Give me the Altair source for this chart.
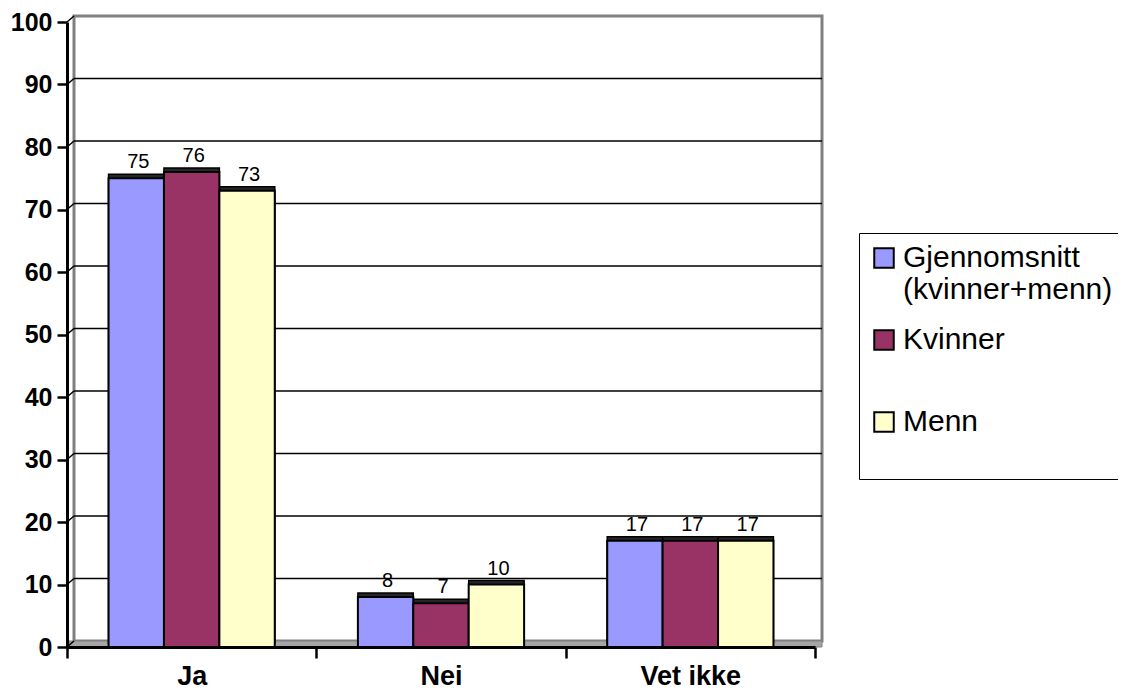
import altair as alt
import pandas as pd

categories = ["Ja", "Nei", "Vet ikke"]
series = ["Gjennomsnitt (kvinner+menn)", "Kvinner", "Menn"]
gjennomsnitt = [75, 8, 17]
kvinner = [76, 7, 17]
menn = [73, 10, 17]
colors = ["#9999FF", "#993366", "#FFFFCC"]
y_ticks = list(range(0, 101, 10))
grid_values = list(range(10, 100, 10))

rows = []
for i, c in enumerate(categories):
    for s, vals in zip(series, [gjennomsnitt, kvinner, menn]):
        rows.append({"kategori": c, "gruppe": s, "verdi": vals[i]})
df = pd.DataFrame(rows)
tick_df = pd.DataFrame({"v": y_ticks})
grid_df = pd.DataFrame({"v": grid_values})
one_df = pd.DataFrame({"a": [0]})

FONT = "Liberation Sans"
W, H = 748, 625
DEPTH_X, DEPTH_Y = 7, 6

y_axis = alt.Axis(
    values=y_ticks, title=None, grid=False,
    labelFont=FONT, labelFontSize=25, labelFontWeight="bold", labelColor="black",
    labelPadding=5, tickSize=10, tickWidth=2.5, tickColor="black",
    domainColor="black", domainWidth=3, zindex=1,
)
y_scale = alt.Scale(domain=[0, 100], nice=False, zero=True)

x_axis = alt.Axis(
    title=None, labelAngle=0, tickBand="extent",
    labelFont=FONT, labelFontSize=27, labelFontWeight="bold", labelColor="black",
    labelBaseline="alphabetic", labelPadding=26,
    tickSize=11, tickWidth=2.5, tickColor="black",
    domainColor="black", domainWidth=3, zindex=1,
)
x_enc = alt.X("kategori:N", sort=categories, axis=x_axis,
              scale=alt.Scale(paddingInner=0, paddingOuter=0))
xo_enc = alt.XOffset("gruppe:N", sort=series,
                     scale=alt.Scale(paddingInner=0, paddingOuter=0.75))

wall = alt.Chart(one_df).mark_rect(fill="white", stroke="#808080", strokeWidth=3).encode(
    x=alt.value(DEPTH_X), x2=alt.value(W + DEPTH_X),
    y=alt.value(-DEPTH_Y), y2=alt.value(H - DEPTH_Y),
)
floor = alt.Chart(one_df).mark_rect(fill="#a6a6a6", stroke="#808080", strokeWidth=1).encode(
    x=alt.value(2), x2=alt.value(W + DEPTH_X),
    y=alt.value(H - DEPTH_Y), y2=alt.value(H),
)
grid = alt.Chart(grid_df).mark_rule(color="black", strokeWidth=1.5,
                                    yOffset=-DEPTH_Y, y2Offset=-DEPTH_Y).encode(
    y=alt.Y("v:Q", scale=y_scale, axis=y_axis),
    y2="v:Q",
    x=alt.value(DEPTH_X), x2=alt.value(W + DEPTH_X),
)
diag = alt.Chart(tick_df).mark_rule(color="black", strokeWidth=1.5, y2Offset=-DEPTH_Y).encode(
    y=alt.Y("v:Q", scale=y_scale, axis=y_axis),
    y2="v:Q",
    x=alt.value(0), x2=alt.value(DEPTH_X),
)

legend = alt.Legend(
    title=None, orient="none", legendX=792, legendY=211,
    labelFont=FONT, labelFontSize=30, labelColor="black",
    labelExpr="indexof(datum.label, ' ') >= 0 ? split(datum.label, ' ') : [datum.label, '']",
    symbolType="square", symbolSize=380, symbolStrokeColor="black",
    symbolStrokeWidth=2, symbolOpacity=1,
    strokeColor="black", padding=10, rowPadding=20, labelOffset=4,
    labelLimit=400,
)

shadow = alt.Chart(df).mark_bar(fill="#262626", stroke="black", strokeWidth=1.5,
                                yOffset=-4).encode(
    x=x_enc, xOffset=xo_enc,
    y=alt.Y("verdi:Q", scale=y_scale, axis=y_axis),
)
bars = alt.Chart(df).mark_bar(stroke="black", strokeWidth=2, opacity=1).encode(
    x=x_enc, xOffset=xo_enc,
    y=alt.Y("verdi:Q", scale=y_scale, axis=y_axis),
    color=alt.Color("gruppe:N", sort=series,
                    scale=alt.Scale(domain=series, range=colors), legend=legend),
)
labels = alt.Chart(df).mark_text(font=FONT, fontSize=20, color="black",
                                 baseline="alphabetic", dy=-10, dx=2).encode(
    x=x_enc, xOffset=xo_enc,
    y=alt.Y("verdi:Q", scale=y_scale, axis=y_axis),
    text="verdi:Q",
)

chart = alt.layer(wall, floor, grid, diag, shadow, bars, labels).properties(
    width=W, height=H,
    autosize=alt.AutoSizeParams(type="none"),
    padding={"left": 59, "top": 14, "right": 303, "bottom": 44},
).configure_view(stroke=None)

chart.save("out.html", embed_options={"renderer": "svg", "actions": False})
